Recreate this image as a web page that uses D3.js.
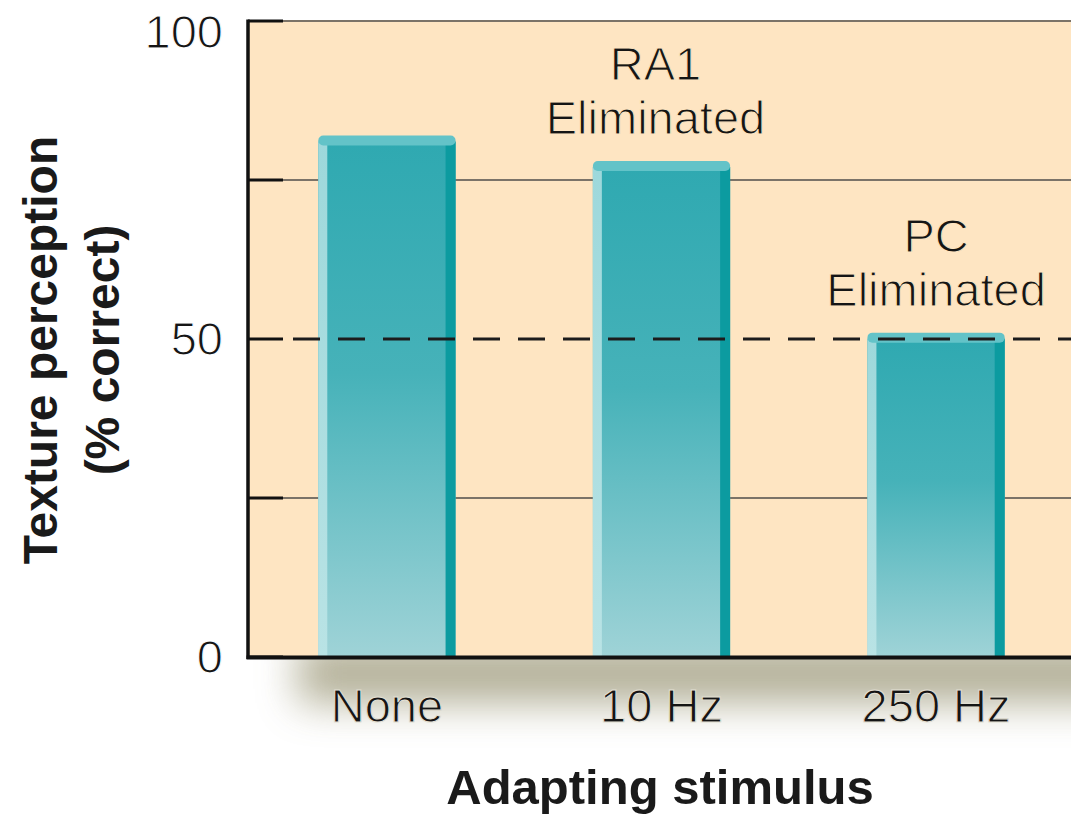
<!DOCTYPE html>
<html>
<head>
    <meta charset="utf-8">
    <title>Texture perception</title>
    <script src="https://d3js.org/d3.v7.min.js"></script>
    <style>
        body { margin: 0; background: #fff; }
        text { font-family: "Liberation Sans", Arial, sans-serif; }
    </style>
</head>
<body>
    <script>
        // data
        var categories = ["None", "10 Hz", "250 Hz"];
        var values = [82, 78, 51];
        var yLabels = [0, 50, 100];
        var tickValues = [0, 25, 50, 75, 100];
        var gridValues = [25, 75, 100];
        var chance = 50;
        var noteCats = ["10 Hz", "250 Hz"];
        var noteLines = [["RA1", "Eliminated"], ["PC", "Eliminated"]];

        var width = 1071;
        var height = 814;
        // note: "top" is taken by window.top, so use other names
        var plotLeft = 248, plotRight = 1075, plotTop = 21, plotBottom = 657;
        var panelColor = "#fee5c2";

        var svg = d3.select("body").append("svg")
            .attr("width", width)
            .attr("height", height);

        var defs = svg.append("defs");

        var face = defs.append("linearGradient").attr("id", "face")
            .attr("x1", 0).attr("y1", 0).attr("x2", 0).attr("y2", 1);
        face.append("stop").attr("offset", "0%").attr("stop-color", "#2fa9b1");
        face.append("stop").attr("offset", "45%").attr("stop-color", "#46b2b9");
        face.append("stop").attr("offset", "100%").attr("stop-color", "#9fd3d7");

        var lightSide = defs.append("linearGradient").attr("id", "lightSide")
            .attr("x1", 0).attr("y1", 0).attr("x2", 0).attr("y2", 1);
        lightSide.append("stop").attr("offset", "0%").attr("stop-color", "#9dd8db");
        lightSide.append("stop").attr("offset", "100%").attr("stop-color", "#b9e3e5");

        var blur = defs.append("filter").attr("id", "blur")
            .attr("x", "-20%").attr("y", "-150%").attr("width", "140%").attr("height", "400%");
        blur.append("feGaussianBlur").attr("stdDeviation", 20);

        defs.append("clipPath").attr("id", "below")
            .append("rect").attr("x", 0).attr("y", plotBottom + 2).attr("width", width).attr("height", 200);

        var x = d3.scaleBand()
            .domain(categories)
            .range([plotLeft, plotRight])
            .paddingInner(0.5)
            .paddingOuter(0.256);

        var y = d3.scaleLinear()
            .domain([0, 100])
            .range([plotBottom, plotTop]);

        // soft shadow under the panel
        svg.append("g").attr("clip-path", "url(#below)")
            .append("rect")
            .attr("x", plotLeft + 50).attr("y", plotBottom - 14)
            .attr("width", width).attr("height", 60)
            .attr("fill", "#8f8a66")
            .attr("opacity", 0.68)
            .attr("filter", "url(#blur)");

        // panel
        svg.append("rect")
            .attr("x", plotLeft).attr("y", y(100))
            .attr("width", width - plotLeft).attr("height", plotBottom - y(100))
            .attr("fill", panelColor);

        svg.selectAll("line.grid")
            .data(gridValues)
            .enter().append("line")
            .attr("class", "grid")
            .attr("x1", plotLeft).attr("x2", width)
            .attr("y1", function(d) { return y(d); })
            .attr("y2", function(d) { return y(d); })
            .attr("stroke", "#7b7368")
            .attr("stroke-width", 2);

        // bars
        var bars = svg.selectAll("g.bar")
            .data(values)
            .enter().append("g")
            .attr("class", "bar")
            .attr("transform", function(d, i) { return "translate(" + x(categories[i]) + ",0)"; });

        var bw = x.bandwidth();
        bars.append("rect")
            .attr("x", 0).attr("y", function(d) { return y(d) + 6; })
            .attr("width", bw).attr("height", function(d) { return plotBottom - y(d) - 6; })
            .attr("fill", "url(#face)");
        bars.append("rect")
            .attr("x", 0).attr("y", function(d) { return y(d) + 6; })
            .attr("width", 9).attr("height", function(d) { return plotBottom - y(d) - 6; })
            .attr("fill", "url(#lightSide)");
        bars.append("rect")
            .attr("x", bw - 10).attr("y", function(d) { return y(d) + 6; })
            .attr("width", 10).attr("height", function(d) { return plotBottom - y(d) - 6; })
            .attr("fill", "#0c9ba0");
        bars.append("rect")
            .attr("x", 0).attr("y", function(d) { return y(d); })
            .attr("width", bw).attr("height", 10)
            .attr("rx", 5)
            .attr("fill", "#63c3c8");

        // chance line at 50%
        svg.append("line")
            .attr("x1", plotLeft + 45).attr("x2", width)
            .attr("y1", y(chance)).attr("y2", y(chance))
            .attr("stroke", "#1c1c1c")
            .attr("stroke-width", 3)
            .attr("stroke-dasharray", "27,18");

        // inward tick stubs
        svg.selectAll("line.tick")
            .data(tickValues)
            .enter().append("line")
            .attr("class", "tick")
            .attr("x1", plotLeft).attr("x2", plotLeft + 35)
            .attr("y1", function(d) { return y(d); })
            .attr("y2", function(d) { return y(d); })
            .attr("stroke", "#111")
            .attr("stroke-width", 3);

        // axis lines
        svg.append("line")
            .attr("x1", plotLeft).attr("x2", plotLeft)
            .attr("y1", y(100) - 1.5).attr("y2", plotBottom + 2)
            .attr("stroke", "#111").attr("stroke-width", 3.5);
        svg.append("line")
            .attr("x1", plotLeft - 1.5).attr("x2", width)
            .attr("y1", plotBottom + 0.5).attr("y2", plotBottom + 0.5)
            .attr("stroke", "#111").attr("stroke-width", 4);

        // thin the regular glyphs a little (the original uses a light face)
        function thin(sel, bg) {
            sel.attr("stroke", bg).attr("stroke-width", 1.1);
        }

        // y tick labels
        var yAxis = svg.append("g")
            .attr("transform", "translate(" + (plotLeft - 25) + ",0)")
            .call(d3.axisLeft(y).tickValues(yLabels).tickSize(0).tickPadding(0));
        yAxis.select(".domain").remove();
        yAxis.selectAll("text")
            .attr("font-family", "Liberation Sans, Arial, sans-serif")
            .attr("font-size", 47)
            .attr("fill", "#151515")
            .attr("dy", function(d) { return d === 100 ? "0.56em" : "0.34em"; })
            .call(thin, "#fff");

        // x category labels
        var xAxis = svg.append("g")
            .attr("transform", "translate(0," + plotBottom + ")")
            .call(d3.axisBottom(x).tickSize(0).tickPadding(0));
        xAxis.select(".domain").remove();
        xAxis.selectAll("text")
            .attr("font-family", "Liberation Sans, Arial, sans-serif")
            .attr("font-size", 47)
            .attr("fill", "#151515")
            .attr("dy", 0)
            .attr("y", 65)
            .call(thin, "#e2dfd2");

        // annotations above bars
        noteCats.forEach(function(c, k) {
            var i = categories.indexOf(c);
            var cx = x(c) + bw / 2;
            var yTop = y(values[i]);
            noteLines[k].forEach(function(line, j) {
                svg.append("text")
                    .attr("x", cx - (k === 0 ? 6 : 0))
                    .attr("y", yTop - 27 - (noteLines[k].length - 1 - j) * 54)
                    .attr("text-anchor", "middle")
                    .attr("font-size", 47)
                    .attr("fill", "#151515")
                    .call(thin, panelColor)
                    .text(line);
            });
        });

        // axis titles
        svg.append("text")
            .attr("x", 660).attr("y", 804)
            .attr("text-anchor", "middle")
            .attr("font-size", 49)
            .attr("font-weight", "bold")
            .attr("fill", "#1a1a1a")
            .text("Adapting stimulus");

        var yTitle = svg.append("text")
            .attr("transform", "translate(57,350) rotate(-90)")
            .attr("text-anchor", "middle")
            .attr("font-size", 48)
            .attr("font-weight", "bold")
            .attr("fill", "#1a1a1a");
        yTitle.append("tspan").attr("x", 0).attr("y", 0).text("Texture perception");
        yTitle.append("tspan").attr("x", 0).attr("y", 62).text("(% correct)");
    </script>
</body>
</html>
